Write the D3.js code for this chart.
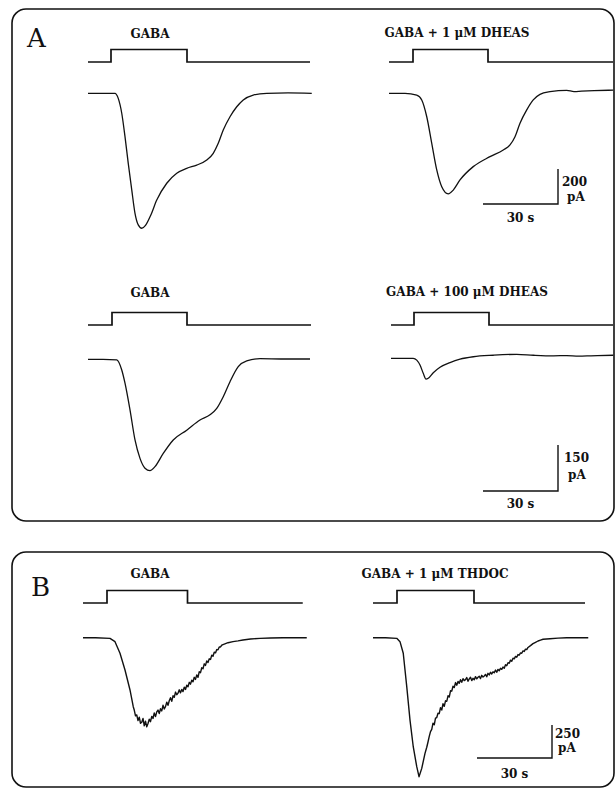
<!DOCTYPE html>
<html>
<head>
<meta charset="utf-8">
<script src="https://cdn.jsdelivr.net/npm/d3@7"></script>
<style>
  body { margin: 0; background: #fff; }
  text { font-family: "DejaVu Serif", serif; fill: #111; font-weight: bold; }
  text.panel { font-weight: normal; }
</style>
</head>
<body>
<svg id="fig" width="616" height="790"></svg>
<script>
// whole-cell currents, time in s, current in pA (inward = negative)
var a1 = [[0,0],[5,0],[10.8,0],[12.1,-29],[13.5,-114],[14.8,-248],[16.1,-400],[17.5,-552],[18.8,-686],[20.1,-752],[21.5,-771],
  [23,-755],[25,-700],[27.5,-610],[31.5,-514],[35.5,-457],[39.5,-429],[43.5,-410],[47.5,-381],[50.1,-343],[52.1,-286],
  [54.1,-210],[56.8,-134],[59.5,-77],[62.1,-38],[66.1,-10],[71.5,0],[80,2],[89.5,0]];
var a2 = [[0,0],[6.4,0],[11.1,-10],[13.1,-38],[15.1,-134],[17.1,-286],[19.1,-438],[21.1,-534],[23.7,-575],[25.7,-553],
  [28.4,-495],[33.7,-419],[40.4,-362],[45.7,-324],[48.4,-295],[50.4,-248],[52.4,-171],[55.1,-95],[57.7,-38],[60.4,-6],
  [64.4,9],[71.1,17],[74,10],[77,12],[82,15],[89.7,18]];
var a3 = [[0,0],[6,0],[11.5,-2],[13.5,-35],[14.8,-78],[16.8,-165],[18.8,-263],[20.8,-323],[22.8,-355],[24.8,-363],
  [26.8,-350],[30.1,-307],[34.1,-263],[39.5,-231],[44.8,-198],[48.8,-181],[51.5,-160],[54.1,-122],[56.8,-73],[60.1,-24],
  [63.5,-5],[68.8,2],[78,1],[88.8,1]];
var a4 = [[0,0],[8.9,0],[10.3,-6],[11.6,-22],[12.9,-49],[14,-68],[14.9,-65],[16.9,-47],[19.6,-29],[23.6,-14],[27.6,-3],
  [32.9,5],[41,10],[50.3,13],[57,10],[65,8],[70.3,9],[75,7],[80,8],[88.9,10]];
var b1 = [[0,0],[5,0],[10.8,-5],[12.8,-30],[14.8,-118],[16.8,-245],[18.8,-396],[20.1,-523],
  [20.5,-548],[21,-592],[21.5,-585],[22,-628],[22.5,-602],[23,-648],[23.5,-640],[24,-612],[24.5,-668],[25,-632],[25.5,-675],
  [26,-650],[26.5,-618],[27,-636],[27.5,-596],[28,-612],[28.5,-570],[29,-598],[29.5,-562],[30,-548],[30.5,-575],[31,-538],
  [31.5,-555],[32,-512],[32.5,-540],[33,-522],[33.5,-488],[34,-512],[34.5,-478],[35,-455],[35.5,-482],[36,-440],[36.5,-452],
  [37,-412],[37.5,-432],[38,-420],[38.5,-395],[39,-418],[39.5,-392],[40,-408],[40.5,-375],[41,-392],[41.5,-360],[42,-372],
  [42.5,-338],[43,-352],[43.5,-322],[44,-334],[44.5,-300],[45,-316],[45.5,-282],[46,-300],[46.5,-258],[47,-265],[47.5,-228],
  [48,-235],[48.5,-198],[49,-210],[49.5,-176],[50,-188],[50.5,-160],[51,-165],[51.5,-132],[52,-140],[52.5,-110],[53,-115],
  [53.5,-90],[54,-92],[54.5,-70],[55,-70],[55.5,-57],[56,-52],[57,-45],[58,-38],[60,-30],[62,-24],[64,-17],[67,-10],
  [70.8,-5],[75,-2],[80,0],[89.5,0]];
var b2 = [[0,0],[5,0],[9.5,-5],[10.8,-30],[12.1,-118],[13.5,-371],[14.8,-624],[16.1,-826],[17.5,-977],[18.4,-1053],
  [19.5,-990],[20.8,-876],[21.5,-830],[22,-790],[22.5,-748],[23,-712],[23.5,-695],[24,-648],[24.5,-660],[25,-610],
  [25.5,-605],[26,-572],[26.5,-575],[27,-530],[27.5,-548],[28,-500],[28.5,-520],[29,-478],[29.5,-482],[30,-440],[30.5,-450],
  [31,-402],[31.5,-405],[32,-368],[32.5,-378],[33,-340],[33.5,-360],[34,-332],[34.5,-345],[35,-318],[35.5,-338],[36,-310],
  [36.5,-325],[37,-318],[37.5,-302],[38,-330],[38.5,-312],[39,-300],[39.5,-325],[40,-308],[40.5,-318],[41,-295],[41.5,-312],
  [42,-300],[42.5,-292],[43,-310],[43.5,-285],[44,-298],[44.5,-290],[45,-278],[45.5,-296],[46,-270],[46.5,-282],[47,-262],
  [47.5,-275],[48,-258],[48.5,-266],[49,-245],[49.5,-262],[50,-240],[50.5,-250],[51,-232],[51.5,-240],[52,-222],[52.5,-232],
  [53,-205],[53.5,-212],[54,-190],[54.5,-193],[55,-170],[55.5,-178],[56,-155],[56.5,-160],[57,-142],[57.5,-148],[58,-128],
  [58.5,-132],[59,-115],[59.5,-118],[60,-100],[60.5,-104],[61,-87],[61.5,-90],[62,-74],[63,-60],[64,-45],[65,-35],[66,-25],
  [67,-18],[68,-12],[70.8,-8],[74,-3],[77.5,0],[86.1,0]];

// GABA application (s)
var stimOn  = [9.2, 9.6, 9.6, 9.2, 9.6, 9.6];
var stimOff = [39.6, 39.6, 39.6, 39.2, 41.8, 40.4];
var stimEnd = [88.8, 89.6, 89.2, 88.8, 87.9, 84.8];
var labels = ["GABA", "GABA + 1 \u03bcM DHEAS", "GABA", "GABA + 100 \u03bcM DHEAS", "GABA", "GABA + 1 \u03bcM THDOC"];
var barSec = 30;
var barPA = [200, 150, 250];

var svg = d3.select("#fig");

// boxes
svg.append("rect").attr("x",12).attr("y",9).attr("width",602).attr("height",512).attr("rx",14)
  .attr("fill","none").attr("stroke","#111").attr("stroke-width",1.6);
svg.append("rect").attr("x",12).attr("y",552).attr("width",602).attr("height",235).attr("rx",14)
  .attr("fill","none").attr("stroke","#111").attr("stroke-width",1.6);
svg.append("text").attr("class","panel").attr("x",27).attr("y",47).attr("font-size",26).text("A");
svg.append("text").attr("class","panel").attr("x",31).attr("y",596).attr("font-size",26).text("B");

var traces = [a1, a2, a3, a4, b1, b2];
var layout = [
  {x0:88,  y0:93.3,  sy:62,  k:0.175,  lx:150, ly:38,  smooth:true},
  {x0:389, y0:93.3,  sy:62,  k:0.175,  lx:457, ly:37,  smooth:true},
  {x0:88,  y0:359.3, sy:325, k:0.3067, lx:150, ly:297, smooth:true},
  {x0:391, y0:358.3, sy:325, k:0.3067, lx:467, ly:296, smooth:true},
  {x0:83,  y0:637.7, sy:603, k:0.132,  lx:150, ly:578, smooth:false},
  {x0:373, y0:637.7, sy:603, k:0.132,  lx:435, ly:578, smooth:false}
];

var scales = [];
layout.forEach(function(p, i) {
  var x = d3.scaleLinear().domain([0, 90]).range([p.x0, p.x0 + 225]);
  var y = d3.scaleLinear().domain([0, -1000]).range([p.y0, p.y0 + 1000 * p.k]);
  var ys = d3.scaleLinear().domain([0, 1]).range([p.sy, p.sy - 12.5]);
  scales.push({x: x, y: y});

  var stim = [[0,0],[stimOn[i],0],[stimOn[i],1],[stimOff[i],1],[stimOff[i],0],[stimEnd[i],0]];
  svg.append("path")
    .attr("d", d3.line().x(function(d){return x(d[0]);}).y(function(d){return ys(d[1]);})(stim))
    .attr("fill","none").attr("stroke","#111").attr("stroke-width",1.7);

  svg.append("path")
    .attr("d", d3.line().curve(p.smooth ? d3.curveMonotoneX : d3.curveLinear)
      .x(function(d){return x(d[0]);}).y(function(d){return y(d[1]);})(traces[i]))
    .attr("fill","none").attr("stroke","#111").attr("stroke-width",p.smooth ? 1.3 : 1.4)
    .attr("stroke-linejoin","round");

  svg.append("text").attr("x",p.lx).attr("y",p.ly).attr("text-anchor","middle")
    .attr("font-size",12).text(labels[i]);
});

// scale bars, drawn on the right-hand trace of each row
var bars = [
  {panel:1, t0:37.6, yb:204, dx1:4, dx2:9, d1:17, d2:32, dt:18},
  {panel:3, t0:36.8, yb:491, dx1:6, dx2:10, d1:17, d2:34, dt:17},
  {panel:5, t0:41.6, yb:758, dx1:3, dx2:6,  d1:13, d2:27, dt:20}
];
bars.forEach(function(b, r) {
  var s = scales[b.panel];
  var xa = s.x(b.t0), xb = s.x(b.t0 + barSec);
  var h = s.y(-barPA[r]) - s.y(0);
  svg.append("path").attr("d", "M" + xa + "," + b.yb + "H" + xb + "V" + (b.yb - h))
    .attr("fill","none").attr("stroke","#111").attr("stroke-width",1.4);
  svg.append("text").attr("x", xb + b.dx1).attr("y", b.yb - h + b.d1).attr("font-size",12).text(barPA[r]);
  svg.append("text").attr("x", xb + b.dx2).attr("y", b.yb - h + b.d2).attr("font-size",12).text("pA");
  svg.append("text").attr("x", (xa + xb) / 2).attr("y", b.yb + b.dt).attr("text-anchor","middle")
    .attr("font-size",12).text(barSec + " s");
});
</script>
</body>
</html>
